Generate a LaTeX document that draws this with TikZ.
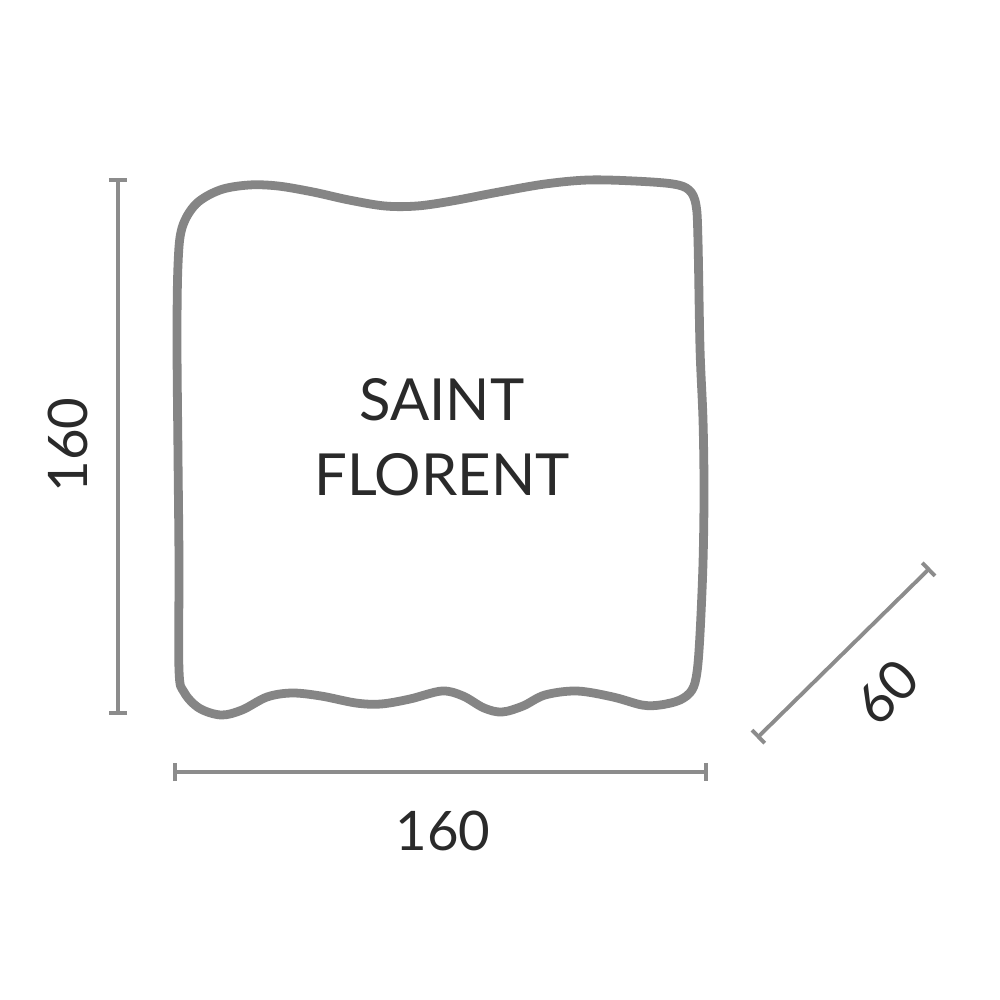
\documentclass[tikz,border=0pt]{standalone}
\usepackage{fontspec}
\setmainfont{Lato}
\usetikzlibrary{arrows.meta}
\definecolor{outl}{HTML}{858585}
\definecolor{dimc}{HTML}{8C8C8C}
\definecolor{txt}{HTML}{2A2A2A}
\tikzset{
  outline/.style={draw=outl, line width=2.5pt, line join=round},
  dimline/.style={draw=dimc, line width=1.1pt, {Bar[width=5.2pt,line width=1.1pt]}-{Bar[width=5.2pt,line width=1.1pt]}},
  dimtext/.style={text=txt, font=\fontsize{15.5}{18}\selectfont, inner sep=0pt},
  title/.style={text=txt, font=\fontsize{16.5}{21.3}\selectfont, align=center, inner sep=0pt}
}
\begin{document}
\begin{tikzpicture}[x=0.01cm, y=-0.01cm]
\useasboundingbox[fill=white] (0,0) rectangle (1000,1000);
% pillow outline
\draw[outline] plot[smooth cycle, tension=0.55] coordinates {
 (182,228) (196,204) (220,190) (249,185) (278,186) (313,192) (349,200) (385,206) (417,206) (452,201) (499,192) (545,184) (588,180) (634,181) (673,184) (689,190) (696,205) (698,241) (700,348) (703,420) (704,491) (703,563) (700,634) (697,672) (692,690) (680,700) (660,705) (642,705) (613,697) (577,691) (545,695) (523,706) (502,712) (484,708) (463,696) (442,691) (410,699) (381,704) (356,703) (321,696) (292,693) (267,697) (242,710) (221,715) (199,708) (184,692) (179,670) (179,563) (178,456) (177,340) (178,265)};
% dimension endpoints
\coordinate (vt) at (118,178);
\coordinate (vb) at (118,715);
\coordinate (hl) at (173,772);
\coordinate (hr) at (708,772);
\coordinate (dl) at (757,738);
\coordinate (du) at (930,568);
\draw[dimline] (vt) -- (vb);
\draw[dimline] (hl) -- (hr);
\draw[dimline] (dl) -- (du);
% labels
\node[title] (name) at (442,437) {SAINT\\FLORENT};
\node[dimtext, rotate=90] (hv) at (68,445) {160};
\node[dimtext] (hh) at (443,831) {160};
\node[dimtext, rotate=45] (dd) at (887,692) {60};
\end{tikzpicture}
\end{document}
